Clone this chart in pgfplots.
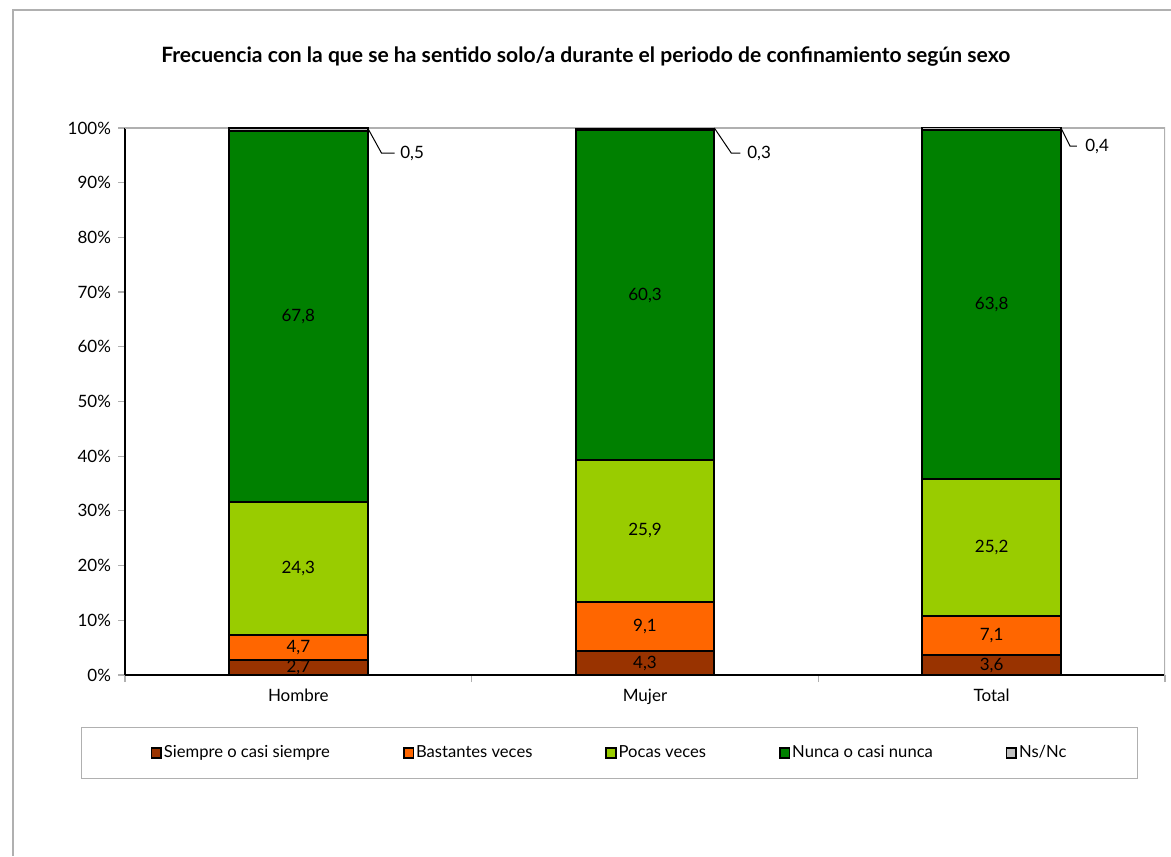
\documentclass[border=0pt]{standalone}
\usepackage{pgfplots}
\pgfplotsset{compat=1.18}
\usepackage{pgfplotstable}
\usepackage{fontspec}
\setmainfont{Lato}
\definecolor{cSiempre}{HTML}{993300}
\definecolor{cBastantes}{HTML}{FF6600}
\definecolor{cPocas}{HTML}{99CC00}
\definecolor{cNunca}{HTML}{008000}
\definecolor{cNs}{HTML}{C0C0C0}
\definecolor{frameGray}{HTML}{B0B0B0}

\pgfplotstableread{
x a b c d e
0 2.7 4.7 24.3 67.8 0.5
1 4.3 9.1 25.9 60.3 0.3
2 3.6 7.1 25.2 63.8 0.4
}\data

\pgfplotstableread{
x lx ly e
0 0.293 95.4 0.5
1 1.294 95.4 0.3
2 2.269 96.7 0.4
}\nsdata

\newcommand{\lblfont}{\fontsize{8.5}{10}\selectfont}
\newcommand{\legfont}{\fontsize{8.3}{10}\selectfont}

\begin{document}
\begin{tikzpicture}[x=1pt,y=1pt]
\path[use as bounding box] (0,0) rectangle (585.5,428);
\draw[frameGray, line width=0.6pt] (6.5,0) -- (6.5,423) -- (585.5,423);

\begin{axis}[
  at={(62.5pt,90.5pt)}, anchor=south west,
  scale only axis, width=520pt, height=273.5pt,
  ybar stacked, bar width=0.4,
  xmin=-0.5, xmax=2.5, ymin=0, ymax=100,
  axis lines=left, axis line style={-, black, line width=0.6pt},
  xtick={0,1,2}, xticklabels={Hombre,Mujer,Total},
  major x tick style={draw=none},
  minor xtick={-0.5,0.5,1.5,2.5},
  minor x tick style={frameGray, line width=0.6pt},
  minor tick length=3.5pt,
  ytick={0,10,...,100},
  yticklabels={0\%,10\%,20\%,30\%,40\%,50\%,60\%,70\%,80\%,90\%,100\%},
  y tick style={frameGray, line width=0.6pt},
  major tick length=3.5pt,
  tick align=outside,
  tick label style={font=\lblfont},
  title={\bfseries Frecuencia con la que se ha sentido solo/a durante el periodo de confinamiento según sexo},
  title style={at={(0.443,1.1298)}, anchor=center, yshift=-6pt, font=\fontsize{10.55}{12}\selectfont},
  legend style={at={(0.466,-0.1426)}, anchor=center, draw=frameGray, line width=0.6pt,
    legend columns=5, inner xsep=34.5pt, inner ysep=8pt, font=\legfont,
    nodes={inner sep=1pt},
    /tikz/every even column/.append style={column sep=35.5pt}},
  legend image code/.code={\draw[#1, draw=black, line width=0.8pt] (0pt,-2.4pt) rectangle (4.8pt,2.4pt);},
  every axis plot/.append style={draw=black, line width=1pt},
]
\addplot[fill=cSiempre] table[x=x, y=a] {\data};
\addplot[fill=cBastantes] table[x=x, y=b] {\data};
\addplot[fill=cPocas] table[x=x, y=c] {\data};
\addplot[fill=cNunca] table[x=x, y=d] {\data};
\addplot[fill=cNs] table[x=x, y=e] {\data};
\legend{Siempre o casi siempre, Bastantes veces, Pocas veces, Nunca o casi nunca, Ns/Nc}
\draw[frameGray, line width=0.6pt] (rel axis cs:0,1) -- (rel axis cs:1,1) -- ([yshift=-3.5pt]rel axis cs:1,0);
\end{axis}

\begin{axis}[
  at={(62.5pt,90.5pt)}, anchor=south west,
  scale only axis, width=520pt, height=273.5pt,
  xmin=-0.5, xmax=2.5, ymin=0, ymax=100,
  hide axis, clip=false,
  point meta=explicit,
  lbl/.style={draw=none, nodes near coords, nodes near coords align=center,
    every node near coord/.append style={font=\lblfont, inner sep=0pt, text=black}},
  /pgf/number format/fixed, /pgf/number format/fixed zerofill,
  /pgf/number format/precision=1, /pgf/number format/use comma,
  /pgf/number format/assume math mode=true,
]
\addplot[lbl] table[x=x, y expr=\thisrow{a}/2, meta=a] {\data};
\addplot[lbl] table[x=x, y expr=\thisrow{a}+\thisrow{b}/2, meta=b] {\data};
\addplot[lbl] table[x=x, y expr=\thisrow{a}+\thisrow{b}+\thisrow{c}/2, meta=c] {\data};
\addplot[lbl] table[x=x, y expr=\thisrow{a}+\thisrow{b}+\thisrow{c}+\thisrow{d}/2, meta=d] {\data};
\addplot[black, line width=0.5pt] coordinates {(0.2,100) (0.240,95.4) (0.278,95.4)};
\addplot[black, line width=0.5pt] coordinates {(1.2,100) (1.249,95.4) (1.275,95.4)};
\addplot[black, line width=0.5pt] coordinates {(2.2,100) (2.226,96.7) (2.246,96.7)};
\addplot[draw=none, nodes near coords, nodes near coords align=west,
  every node near coord/.append style={font=\lblfont, inner sep=0pt, text=black}]
  table[x=lx, y=ly, meta=e] {\nsdata};
\end{axis}
\end{tikzpicture}
\end{document}
